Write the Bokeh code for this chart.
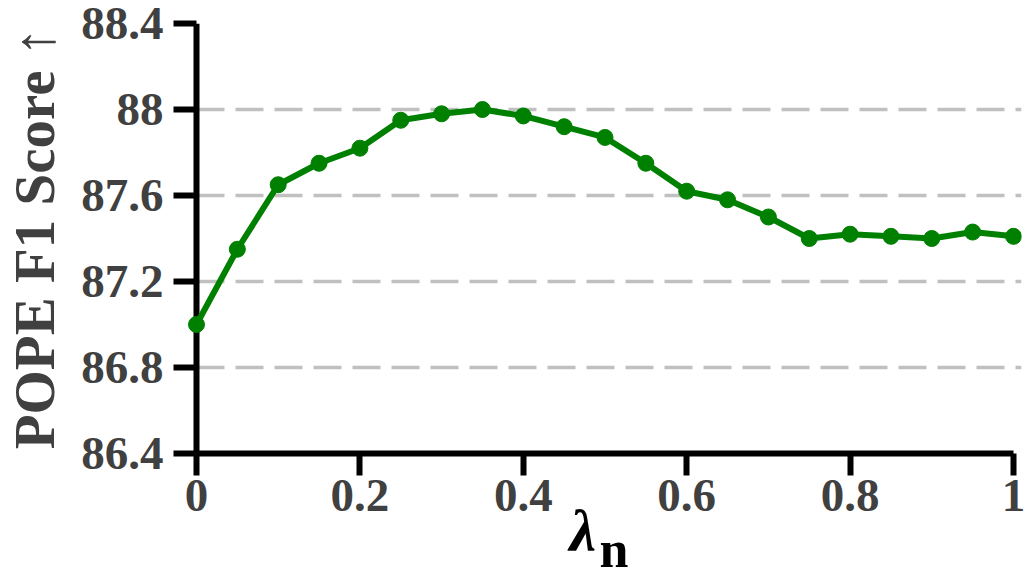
import math
from bokeh.plotting import figure
from bokeh.models import Range1d, FixedTicker, Span, Title
from bokeh.embed import file_html
from bokeh.resources import INLINE

# ---- data ----
lambdas = [0.0, 0.05, 0.1, 0.15, 0.2, 0.25, 0.3, 0.35, 0.4, 0.45, 0.5,
           0.55, 0.6, 0.65, 0.7, 0.75, 0.8, 0.85, 0.9, 0.95, 1.0]
f1_scores = [87.00, 87.35, 87.65, 87.75, 87.82, 87.95, 87.98, 88.00, 87.97, 87.92, 87.87,
             87.75, 87.62, 87.58, 87.50, 87.40, 87.42, 87.41, 87.40, 87.43, 87.41]
x_ticks = [0.0, 0.2, 0.4, 0.6, 0.8, 1.0]
x_tick_labels = ["0", "0.2", "0.4", "0.6", "0.8", "1"]
y_ticks = [86.4, 86.8, 87.2, 87.6, 88.0, 88.4]
y_tick_labels = ["86.4", "86.8", "87.2", "87.6", "88", "88.4"]
y_title = "POPE F1 Score \u2191"
x_title_main = "\u03bb"
x_title_sub = "n"

FONT = "Liberation Serif"
TXT = "#404040"
GREEN = "#008000"

p = figure(width=1026, height=572, output_backend="svg", toolbar_location=None,
           x_range=Range1d(-0.01224, 1.00979), y_range=Range1d(86.4, 88.4),
           min_border_left=186, min_border_right=5, min_border_top=23, min_border_bottom=119)
p.outline_line_color = None
p.background_fill_color = "white"
p.border_fill_color = "white"

# grid
p.xgrid.grid_line_color = None
p.ygrid.grid_line_color = "#c0c0c0"
p.ygrid.grid_line_width = 3.5
p.ygrid.grid_line_dash = "28 11"
p.ygrid.grid_line_dash_offset = 29
p.ygrid.ticker = FixedTicker(ticks=y_ticks)

# x axis
p.xaxis.ticker = FixedTicker(ticks=x_ticks)
p.xaxis.major_label_overrides = {t: l for t, l in zip(x_ticks, x_tick_labels)}
p.xaxis.bounds = (0, 1)
p.xaxis.axis_line_width = 6
p.xaxis.axis_line_color = "black"
p.xaxis.major_tick_line_width = 6
p.xaxis.major_tick_line_color = "black"
p.xaxis.major_tick_in = 0
p.xaxis.major_tick_out = 22
p.xaxis.minor_tick_line_color = None
p.xaxis.major_label_standoff = 4
p.xaxis.major_label_text_font = FONT
p.xaxis.major_label_text_font_style = "bold"
p.xaxis.major_label_text_font_size = "47px"
p.xaxis.major_label_text_color = TXT

# y axis
p.yaxis.ticker = FixedTicker(ticks=y_ticks)
p.yaxis.major_label_overrides = {t: l for t, l in zip(y_ticks, y_tick_labels)}
p.yaxis.axis_line_color = None
p.yaxis.major_tick_line_width = 6
p.yaxis.major_tick_line_color = "black"
p.yaxis.major_tick_in = 10
p.yaxis.major_tick_out = 13
p.yaxis.minor_tick_line_color = None
p.yaxis.major_label_standoff = 10
p.yaxis.major_label_text_font = FONT
p.yaxis.major_label_text_font_style = "bold"
p.yaxis.major_label_text_font_size = "47px"
p.yaxis.major_label_text_color = TXT
p.yaxis.axis_label = y_title
p.yaxis.axis_label_standoff = 12
p.yaxis.axis_label_text_font = FONT
p.yaxis.axis_label_text_font_style = "bold"
p.yaxis.axis_label_text_font_size = "57px"
p.yaxis.axis_label_text_color = TXT

# left spine at x = 0
spine = Span(location=0, dimension="height", line_color="black", line_width=6, level="underlay")
p.add_layout(spine)

# data
p.line(lambdas, f1_scores, line_color=GREEN, line_width=6)
p.scatter(lambdas, f1_scores, size=16, fill_color=GREEN, line_color=GREEN)

# x axis title: lambda with subscript n
t_main = Title(text=x_title_main, align="left", offset=383, standoff=-35,
               text_font=FONT, text_font_style="bold italic", text_font_size="60px",
               text_color="black")
t_sub = Title(text=x_title_sub, align="left", offset=413, standoff=-56,
              text_font=FONT, text_font_style="bold", text_font_size="52px",
              text_color="black")
p.add_layout(t_main, "below")
p.add_layout(t_sub, "below")

open("out.html", "w").write(file_html(p, INLINE))
